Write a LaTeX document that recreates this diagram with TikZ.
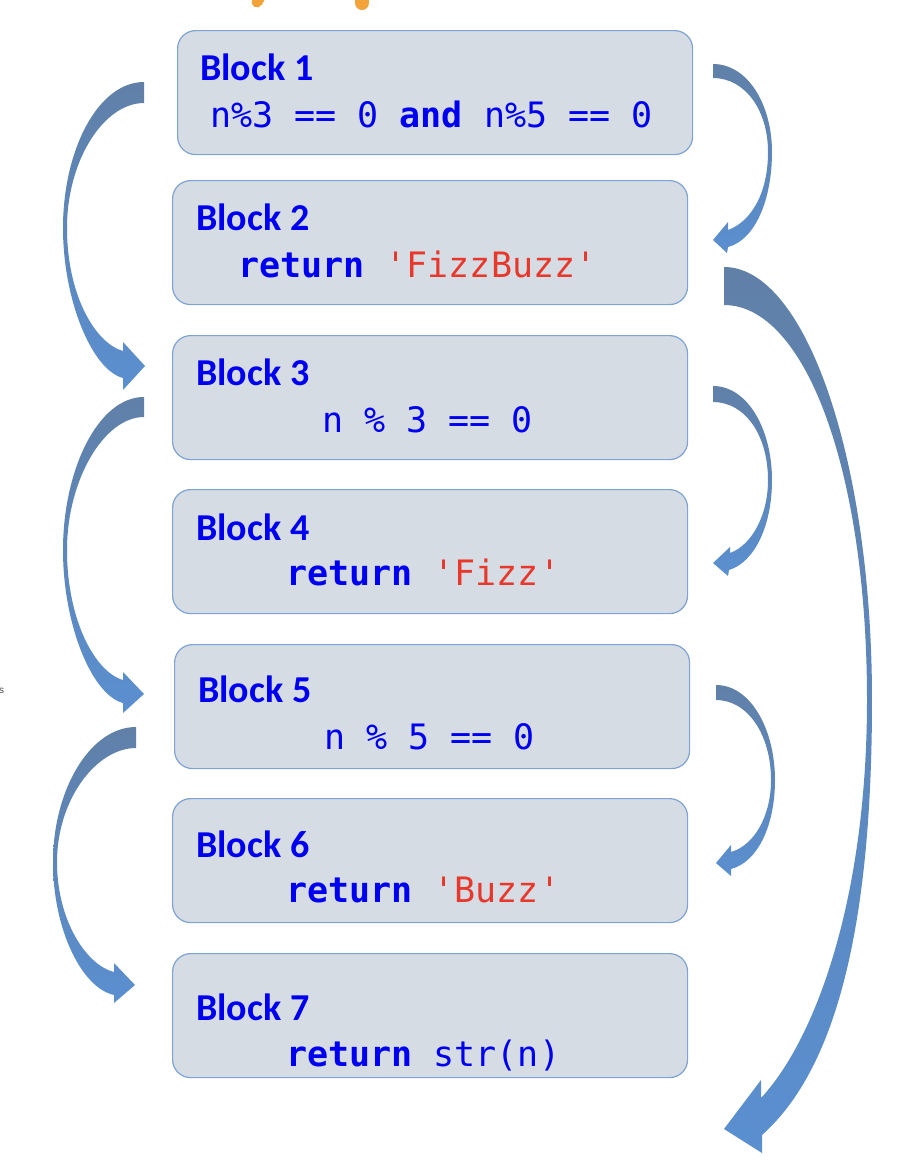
\documentclass[tikz,border=0pt]{standalone}
\usepackage{fontspec}
\newfontfamily\lblfont{Carlito}
\newfontfamily\codefont{DejaVu Sans Mono}[Ligatures=TeXOff]
\newfontfamily\smallfont{Liberation Sans}
\definecolor{boxfill}{RGB}{214,220,228}
\definecolor{boxline}{RGB}{126,163,212}
\definecolor{txtblue}{RGB}{0,0,240}
\definecolor{txtred}{RGB}{232,56,44}
\definecolor{arrtop}{RGB}{96,128,168}
\definecolor{arrbot}{RGB}{90,143,208}
\definecolor{orng}{RGB}{242,164,58}
\begin{document}
\begin{tikzpicture}[x=1pt,y=-1pt,
  block/.style={draw=boxline, line width=1.2pt, fill=boxfill, rounded corners=18pt,
    anchor=north west, minimum width=515pt, minimum height=124pt, inner sep=0pt},
  lbl/.style={anchor=base west, inner sep=0pt, text=txtblue,
    font=\lblfont\bfseries\fontsize{38}{40}\selectfont},
  code/.style={anchor=base west, inner sep=0pt, text=txtblue,
    font=\codefont\fontsize{35}{38}\selectfont},
  flow/.style={top color=arrtop, bottom color=arrbot},
  blob/.style={draw=orng, line cap=round}]
\useasboundingbox (0,0) rectangle (900,1168);

% orange fragments at the top edge
\draw[blob, line width=11pt] (264,-10) -- (257,2);
\draw[blob, line width=14pt] (362,-10) -- (362,3);

% cut-off text at left edge
\node[anchor=base west, inner sep=0pt, text=black!70, font=\smallfont\fontsize{10}{12}\selectfont] (s) at (-1,693) {s};

% blocks
\node[block] (b1) at (177,30) {};
\node[lbl] (l1) at (200,80) {Block 1};
\node[code] (c1) at (210,127) {n\%3 == 0 {\bfseries and} n\%5 == 0};

\node[block] (b2) at (172,180) {};
\node[lbl] (l2) at (196,230) {Block 2};
\node[code] (c2) at (238,277) {{\bfseries return} \textcolor{txtred}{'FizzBuzz'}};

\node[block] (b3) at (172,335) {};
\node[lbl] (l3) at (196,385) {Block 3};
\node[code] (c3) at (322,432) {n \% 3 == 0};

\node[block] (b4) at (172,489) {};
\node[lbl] (l4) at (196,540) {Block 4};
\node[code] (c4) at (286,585) {{\bfseries return} \textcolor{txtred}{'Fizz'}};

\node[block] (b5) at (174,644) {};
\node[lbl] (l5) at (198,702) {Block 5};
\node[code] (c5) at (324,749) {n \% 5 == 0};

\node[block] (b6) at (172,798) {};
\node[lbl] (l6) at (196,857) {Block 6};
\node[code] (c6) at (286,902) {{\bfseries return} \textcolor{txtred}{'Buzz'}};

\node[block] (b7) at (172,953) {};
\node[lbl] (l7) at (196,1020) {Block 7};
\node[code] (c7) at (286,1066) {{\bfseries return} str(n)};

% left curved arrows
\shade[flow] (144,82) .. controls (98,82) and (63,150) .. (63,228)
  .. controls (63,300) and (92,370) .. (123,378)
  -- (123,390) -- (145,366) -- (123,342) -- (123,351)
  .. controls (95,343) and (67,295) .. (67,228)
  .. controls (67,160) and (104,103) .. (144,103) -- cycle;

\shade[flow] (144,397) .. controls (98,397) and (63,470) .. (63,550)
  .. controls (63,625) and (92,695) .. (123,703)
  -- (123,713) -- (144,694) -- (123,672) -- (123,680)
  .. controls (95,672) and (67,620) .. (67,550)
  .. controls (67,480) and (104,417) .. (144,417) -- cycle;

\shade[flow] (136,727) .. controls (90,727) and (53,790) .. (53,862)
  .. controls (53,930) and (82,988) .. (114,995)
  -- (114,1003) -- (135,985) -- (114,963) -- (114,972)
  .. controls (86,965) and (57,920) .. (57,862)
  .. controls (57,800) and (96,748) .. (136,748) -- cycle;

% right curved arrows
\shade[flow] (713,64) .. controls (748,64) and (772,105) .. (772,152)
  .. controls (772,200) and (755,240) .. (728,247)
  -- (727,253) -- (713,240) -- (728,222) -- (728,230)
  .. controls (750,222) and (768,195) .. (768,152)
  .. controls (768,110) and (745,78) .. (713,78) -- cycle;

\shade[flow] (713,386) .. controls (748,386) and (772,430) .. (772,480)
  .. controls (772,525) and (755,562) .. (729,570)
  -- (728,576) -- (713,563) -- (730,547) -- (730,553)
  .. controls (752,545) and (768,515) .. (768,480)
  .. controls (768,435) and (745,402) .. (713,402) -- cycle;

\shade[flow] (716,685) .. controls (751,685) and (775,730) .. (775,780)
  .. controls (775,825) and (758,862) .. (731,869)
  -- (731,876) -- (716,863) -- (731,845) -- (731,852)
  .. controls (755,845) and (771,815) .. (771,780)
  .. controls (771,735) and (748,700) .. (716,700) -- cycle;

% long arrow
\shade[flow] (724,267) .. controls (806,267) and (872,461) .. (872,700)
  .. controls (872,930) and (835,1070) .. (762,1135)
  -- (762,1153) -- (724,1129) -- (761,1080) -- (761,1098)
  .. controls (815,1040) and (867,900) .. (867,700)
  .. controls (867,470) and (805,305) .. (724,305) -- cycle;
\end{tikzpicture}
\end{document}
